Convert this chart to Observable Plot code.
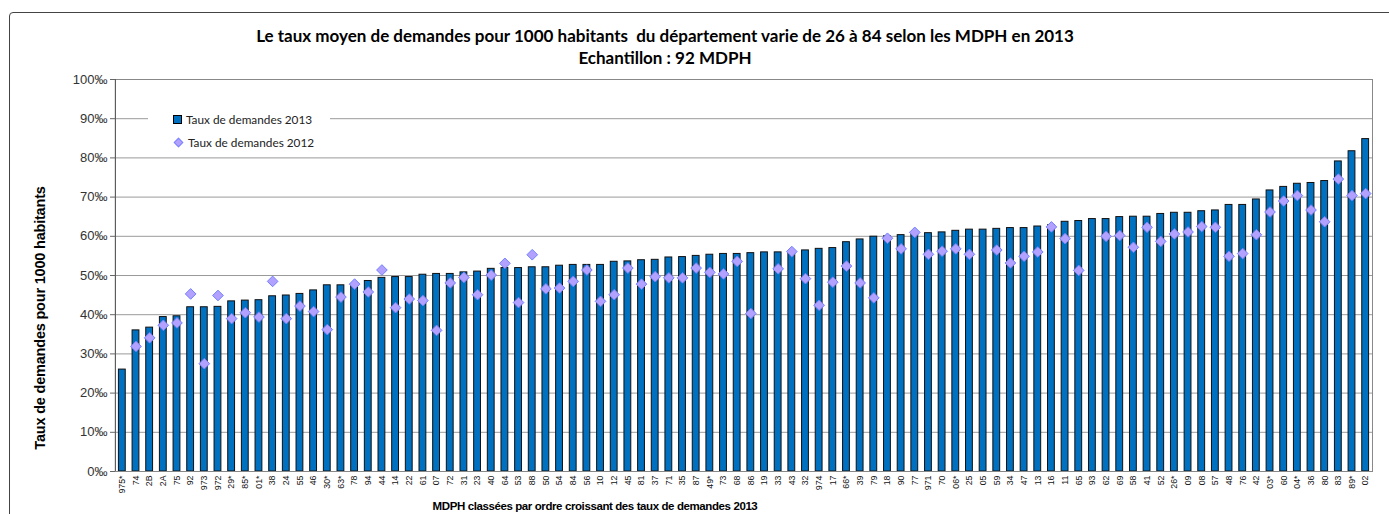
<!DOCTYPE html>
<html>
<head>
<meta charset="utf-8">
<script src="https://cdn.jsdelivr.net/npm/d3@7"></script>
<script src="https://cdn.jsdelivr.net/npm/@observablehq/plot@0.6"></script>
<style>
  html, body { margin: 0; padding: 0; background: #fff; }
  #wrap { position: relative; width: 1389px; height: 514px; overflow: hidden; }
  #frame { position: absolute; left: 9px; top: 12px; width: 1400px; height: 520px; border: 1.5px solid #444; border-radius: 4px; box-sizing: border-box; }
  .title { position: absolute; left: 0; width: 1330px; text-align: center; font-family: Lato, "Open Sans", sans-serif; font-weight: bold; font-size: 17px; color: #000; }
  #ylab { position: absolute; left: 40px; top: 318px; transform: translate(-50%, -50%) rotate(-90deg); white-space: nowrap; font-family: "Liberation Sans", Arial, sans-serif; font-weight: bold; font-size: 14.5px; letter-spacing: -0.2px; color: #000; }
  #xlab { position: absolute; left: 595px; top: 500px; transform: translateX(-50%); white-space: nowrap; font-family: "Liberation Sans", Arial, sans-serif; font-weight: bold; font-size: 11.5px; letter-spacing: -0.4px; color: #000; }
  #legend { position: absolute; left: 148px; top: 106px; width: 182px; height: 48px; background: #fff; font-family: Lato, "Open Sans", sans-serif; font-size: 11.8px; color: #222; }
  .li { position: absolute; left: 25px; white-space: nowrap; display: flex; align-items: center; }
  .sq { width: 7px; height: 7px; background: #0070c0; border: 1px solid #000; margin-right: 4px; }
  .dm { width: 5px; height: 5px; background: #b3a1ff; border: 1px solid #7b84ff; transform: rotate(45deg); margin: 0 6px 0 2px; }
  #chart { position: absolute; left: 0; top: 0; }
</style>
</head>
<body>
<div id="wrap">
  <div id="frame"></div>
  <div id="chart"></div>
  <div class="title" style="top:25px">Le taux moyen de demandes pour 1000 habitants&nbsp; du département varie de 26 à 84 selon les MDPH en 2013</div>
  <div class="title" style="top:47px">Echantillon : 92 MDPH</div>
  <div id="ylab">Taux de demandes pour 1000 habitants</div>
  <div id="xlab">MDPH classées par ordre croissant des taux de demandes 2013</div>
  <div id="legend">
    <div class="li" style="top:6px"><span class="sq"></span>Taux de demandes 2013</div>
    <div class="li" style="top:29px"><span class="dm"></span>Taux de demandes 2012</div>
  </div>
</div>
<script>
const categories = ["975*","74","2B","2A","75","92","973","972","29*","85*","01*","38","24","55","46","30*","63*","78","94","44","14","22","61","07","72","31","23","40","64","53","88","50","54","84","56","10","12","45","81","37","71","35","87","49*","73","68","86","19","33","43","32","974","17","66*","39","79","18","90","77","971","70","06*","25","05","59","34","47","13","16","11","65","93","62","69","58","41","52","26*","09","08","57","48","76","42","03*","60","04*","36","80","83","89*","02"];

const taux2013 = [26.0, 36.0, 36.7, 39.4, 39.6, 41.9, 41.9, 42.0, 43.4, 43.6,
  43.7, 44.7, 44.9, 45.3, 46.2, 47.5, 47.5, 47.8, 48.6, 49.4,
  49.6, 49.6, 50.2, 50.4, 50.4, 50.8, 51.0, 51.7, 51.9, 51.9,
  52.1, 52.1, 52.5, 52.7, 52.7, 52.7, 53.5, 53.6, 53.9, 54.0,
  54.6, 54.7, 55.0, 55.3, 55.5, 55.5, 55.7, 55.9, 55.9, 56.1,
  56.4, 56.8, 57.0, 58.5, 59.2, 59.9, 60.0, 60.3, 60.6, 60.8,
  61.0, 61.4, 61.7, 61.7, 61.9, 62.1, 62.1, 62.5, 62.8, 63.7,
  63.9, 64.4, 64.4, 64.9, 65.0, 65.0, 65.7, 66.0, 66.0, 66.4,
  66.6, 68.0, 68.0, 69.4, 71.7, 72.6, 73.4, 73.6, 74.1, 79.1,
  81.7, 84.8];

const taux2012 = [null, 31.9, 34.1, 37.3, 37.9, 45.3, 27.5, 44.9, 39.0, 40.5,
  39.4, 48.5, 39.0, 42.2, 40.8, 36.2, 44.5, 47.8, 45.8, 51.4,
  41.8, 44.0, 43.6, 36.0, 48.1, 49.5, 45.1, 50.1, 53.1, 43.1,
  55.3, 46.6, 46.8, 48.5, 51.4, 43.4, 45.1, 51.9, 47.8, 49.7,
  49.4, 49.4, 51.9, 50.8, 50.4, 53.6, 40.3, null, 51.7, 56.1,
  49.2, 42.4, 48.3, 52.4, 48.1, 44.3, 59.5, 56.8, 61.0, 55.4,
  56.2, 56.8, 55.4, null, 56.5, 53.2, 54.9, 56.0, 62.4, 59.4,
  51.3, null, 60.0, 60.2, 57.2, 62.3, 58.7, 60.6, 61.1, 62.5,
  62.3, 54.9, 55.6, 60.4, 66.2, 69.0, 70.4, 66.7, 63.7, 74.6,
  70.4, 70.9];

const yTicks = [0, 10, 20, 30, 40, 50, 60, 70, 80, 90, 100];

const data = categories.map((c, i) => ({cat: c, v2013: taux2013[i], v2012: taux2012[i]}));

const chart = Plot.plot({
  width: 1389,
  height: 514,
  marginLeft: 115,
  marginRight: 17,
  marginTop: 79,
  marginBottom: 43,
  style: {fontFamily: "'Liberation Sans', Arial, sans-serif", background: "transparent", color: "#222"},
  x: {domain: categories, paddingInner: 0.5, paddingOuter: 0.25, label: null},
  y: {domain: [0, 100], label: null},
  marks: [
    Plot.gridY(yTicks, {stroke: "#9a9a9a", strokeOpacity: 1, strokeWidth: 1}),
    Plot.barY(data, {x: "cat", y: "v2013", fill: "#0070c0", stroke: "#111", strokeWidth: 1}),
    Plot.dot(data, {x: "cat", y: "v2012", symbol: "diamond2", r: 4.8, fill: "#b3a1ff", stroke: "#7080ff", strokeWidth: 1}),
    Plot.frame({stroke: "#888", strokeWidth: 1}),
    Plot.ruleX([categories[0]], {stroke: "#555", strokeWidth: 1, dx: -7, y1: 0, y2: 100}),
    Plot.axisY(yTicks, {tickFormat: d => d + "‰", tickSize: 5, tickPadding: 3, fontSize: 13, stroke: "#666", fill: "#333", label: null}),
    Plot.axisX({tickRotate: -90, tickSize: 0, tickPadding: 4, fontSize: 8.8, fill: "#111", label: null})
  ]
});
document.getElementById("chart").appendChild(chart);
</script>
</body>
</html>
